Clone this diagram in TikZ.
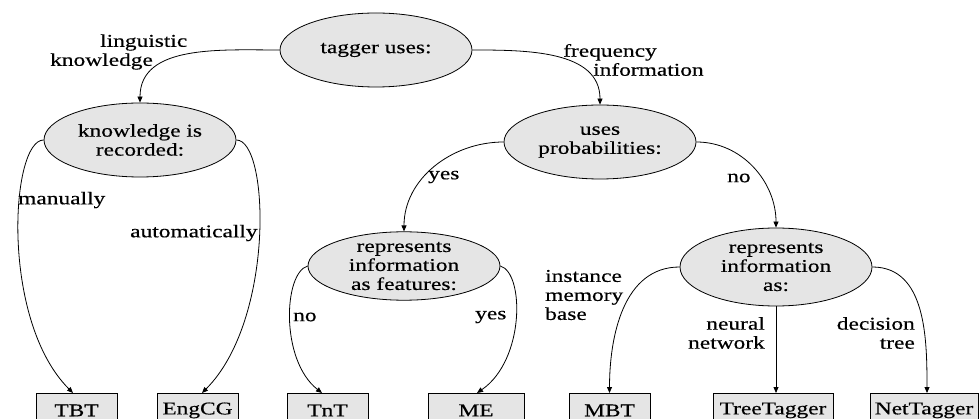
\documentclass[tikz,border=0pt]{standalone}
\usepackage{fontspec}
\setmainfont{Liberation Serif}[FakeStretch=1.3,FakeBold=0.4]
\usetikzlibrary{arrows.meta,shapes.geometric}
\definecolor{nodefill}{gray}{0.9}
\begin{document}
\begin{tikzpicture}[x=1pt,y=-1pt,font=\fontsize{18}{19}\selectfont,
  decision/.style={ellipse,draw,fill=nodefill,line width=0.8pt,inner sep=0pt,minimum width=192pt,minimum height=74pt,align=center},
  tagbox/.style={rectangle,draw,fill=nodefill,line width=0.8pt,inner sep=0pt,minimum height=34pt,anchor=north},
  lab/.style={inner sep=0pt,text=black},
  conn/.style={line width=0.8pt,-{Triangle[length=6pt,width=5pt]}}]
\useasboundingbox (0,0) rectangle (979,419);
% decision ellipses
\node[decision] (tg) at (376,50) {tagger uses:};
\node[decision] (kn) at (140,140) {knowledge is\\recorded:};
\node[decision] (up) at (600,142) {uses\\probabilities:};
\node[decision,minimum height=68pt] (rf) at (404,266) {represents\\information\\as features:};
\node[decision,minimum height=78pt] (ri) at (776,267) {represents\\information\\as:};
% taggers
\node[tagbox,minimum width=81pt] (tbt) at (76.5,393) {TBT};
\node[tagbox,minimum width=81pt] (eng) at (197.5,393) {EngCG};
\node[tagbox,minimum width=81pt] (tnt) at (327.5,393) {TnT};
\node[tagbox,minimum width=96pt] (me) at (476,393) {ME};
\node[tagbox,minimum width=81pt] (mbt) at (609.5,393) {MBT};
\node[tagbox,minimum width=120pt] (tt) at (773,393) {TreeTagger};
\node[tagbox,minimum width=108pt] (nt) at (924,393) {NetTagger};
% connectors
\draw[conn] (tg.west) to[out=180,in=90] (kn.north);
\draw[conn] (tg.east) to[out=0,in=90] (up.north);
\draw[conn] (kn.west) .. controls +(-33,0) and +(-73,-73) .. ([xshift=-3.5pt]tbt.north);
\draw[conn] (kn.east) .. controls +(33,0) and +(73,-73) .. ([xshift=4.5pt]eng.north);
\draw[conn] (up.west) to[out=180,in=90] (rf.north);
\draw[conn] (up.east) to[out=0,in=90] (ri.north);
\draw[conn] (rf.west) .. controls +(-24,7) and +(-42,-33) .. ([xshift=-5.5pt]tnt.north);
\draw[conn] (rf.east) .. controls +(24,7) and +(48,-33) .. ([xshift=1pt]me.north);
\draw[conn] (ri.west) to[out=180,in=90] (mbt.north);
\draw[conn] (ri.south) -- (ri.south |- tt.north);
\draw[conn] (ri.east) to[out=0,in=90] ([xshift=3pt]nt.north);
% labels
\node[lab,anchor=west,align=left] (l1) at (50,52) {\hspace*{50pt}linguistic\\knowledge};
\node[lab,anchor=west,align=left] (l2) at (563,60) {frequency\\\hspace*{30pt}information};
\node[lab,anchor=west] (l3) at (18,200) {manually};
\node[lab,anchor=west] (l4) at (130,233) {automatically};
\node[lab,anchor=west] (l5) at (428,177) {yes};
\node[lab,anchor=west] (l6) at (727,178) {no};
\node[lab,anchor=west] (l7) at (293,317) {no};
\node[lab,anchor=west] (l8) at (475,317) {yes};
\node[lab,anchor=west,align=left] (l9) at (545,295) {instance\\memory\\base};
\node[lab,anchor=east,align=right] (l10) at (765,333) {neural\\network};
\node[lab,anchor=east,align=right] (l11) at (915,333) {decision\\tree};
\end{tikzpicture}
\end{document}
